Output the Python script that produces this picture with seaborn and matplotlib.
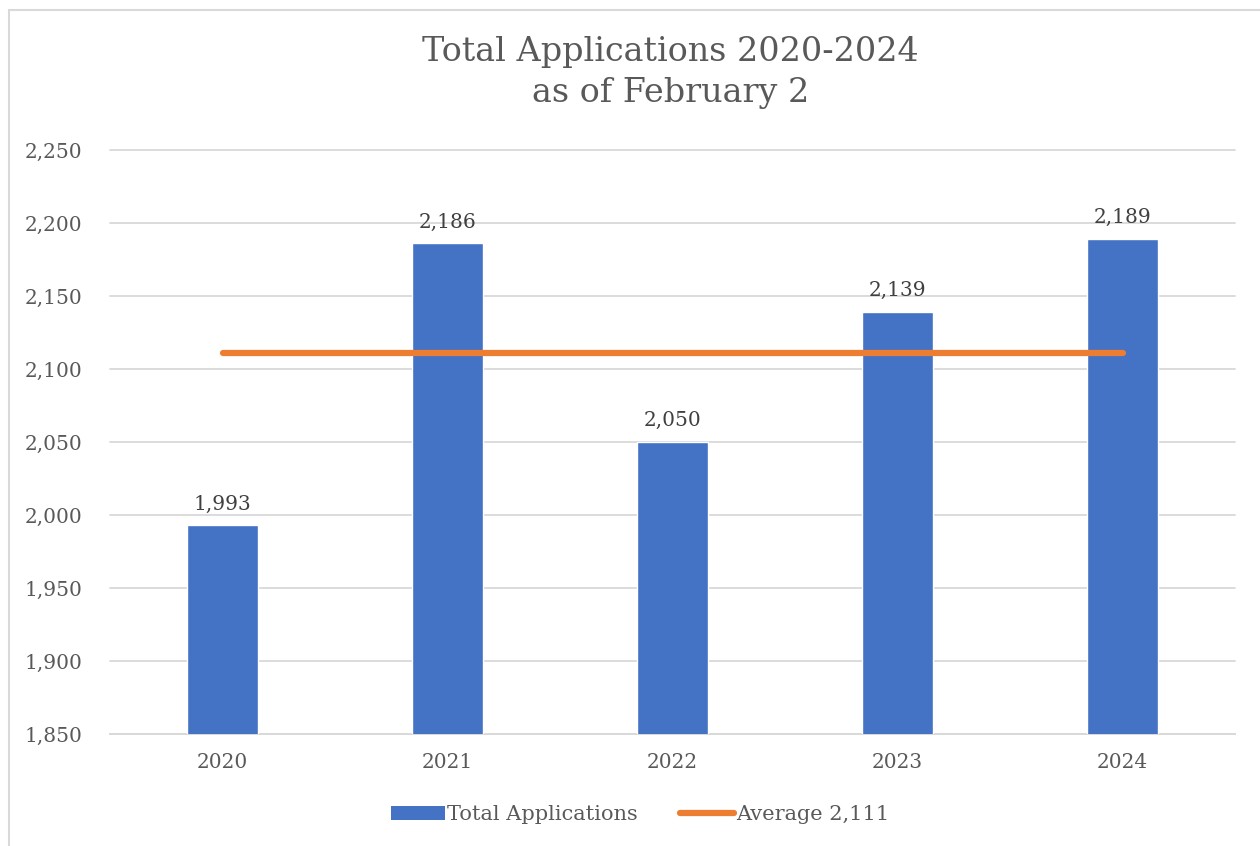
import matplotlib
matplotlib.use("Agg")
import matplotlib.pyplot as plt
import seaborn as sns
import pandas as pd
from matplotlib.patches import Patch, Rectangle
from matplotlib.lines import Line2D
from matplotlib.ticker import FuncFormatter

years = ["2020", "2021", "2022", "2023", "2024"]
applications = [1993, 2186, 2050, 2139, 2189]
average = 2111
y_ticks = [1850, 1900, 1950, 2000, 2050, 2100, 2150, 2200, 2250]

bar_color = "#4472C4"
line_color = "#ED7D31"
text_color = "#595959"

sns.set_theme(style="white")
plt.rcParams["font.family"] = ["DejaVu Serif"]

df = pd.DataFrame({"year": years, "apps": applications})

fig = plt.figure(figsize=(12.6, 8.46), dpi=100)
ax = fig.add_axes([110 / 1260, 112 / 846, 1125 / 1260, 584 / 846])

# chart border like the Excel frame (right and bottom run off the image)
fig.patches.append(Rectangle((9 / 1260, -0.1), 1.1, 0.1 + 836 / 846,
                             transform=fig.transFigure, fill=False,
                             edgecolor="#D9D9D9", linewidth=1.5))

sns.barplot(data=df, x="year", y="apps", color=bar_color, width=0.315,
            saturation=1, ax=ax, zorder=3)
ax.plot(range(len(years)), [average] * len(years), color=line_color,
        linewidth=4.5, solid_capstyle="round", zorder=4)

for i, v in enumerate(applications):
    ax.text(i, v + 8, f"{v:,}", ha="center", va="bottom",
            fontsize=14.5, color="#404040")

ax.set_xlim(-0.5, len(years) - 0.5)
ax.set_ylim(1850, 2250)
ax.set_yticks(y_ticks)
ax.yaxis.set_major_formatter(FuncFormatter(lambda v, p: f"{int(v):,}"))
ax.grid(axis="y", color="#D9D9D9", linewidth=1.3, zorder=0)
for gl in ax.get_ygridlines():
    gl.set_clip_on(False)
ax.set_axisbelow(True)
for s in ["top", "right", "left"]:
    ax.spines[s].set_visible(False)
ax.spines["bottom"].set_color("#D9D9D9")
ax.spines["bottom"].set_linewidth(1.3)
ax.tick_params(axis="both", length=0, labelsize=14.5, colors=text_color)
ax.tick_params(axis="y", pad=20)
ax.tick_params(axis="x", pad=14)
ax.set_xlabel("")
ax.set_ylabel("")

fig.text(0.532, 0.914, "Total Applications 2020-2024\nas of February 2",
         ha="center", va="center", fontsize=24, color=text_color, linespacing=1.35)

handles = [Patch(facecolor=bar_color, edgecolor="none"),
           Line2D([0], [0], color=line_color, linewidth=4.5, solid_capstyle="round")]
fig.legend(handles, ["Total Applications", "Average 2,111"], loc="center",
           bbox_to_anchor=(0.508, 0.037), ncol=2, frameon=False, fontsize=15,
           labelcolor=text_color, handlelength=2.6, handletextpad=0.1,
           columnspacing=2.0)

fig.savefig("out.png", dpi=100, facecolor="white")
